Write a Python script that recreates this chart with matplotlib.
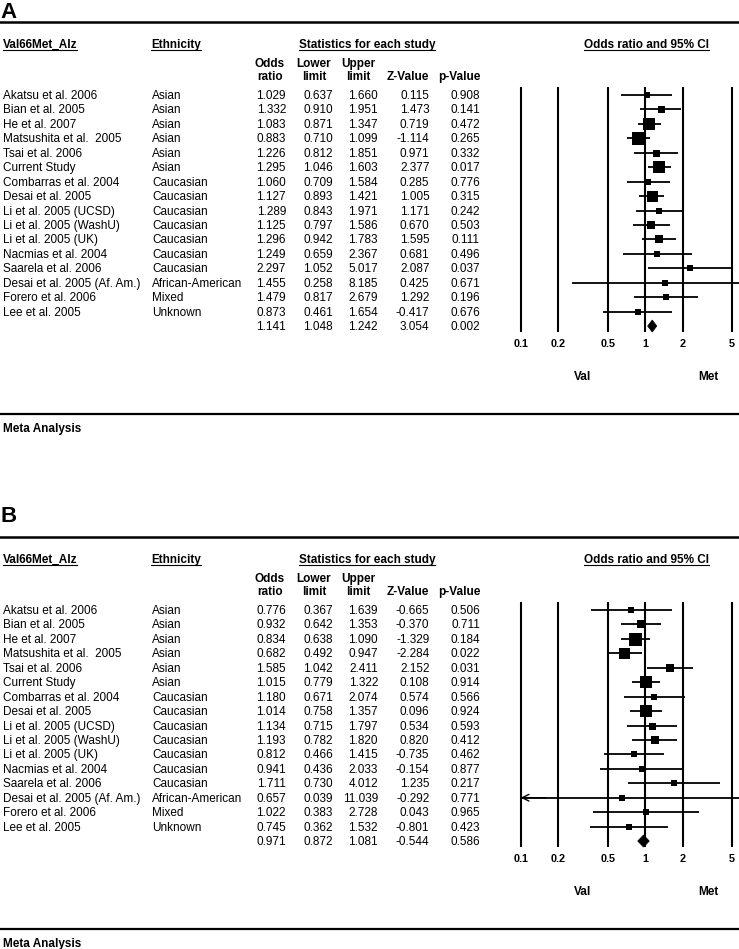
import matplotlib
matplotlib.use("Agg")
import matplotlib.pyplot as plt
from matplotlib.lines import Line2D
from matplotlib.patches import Polygon

plt.rcParams['font.family'] = ['Liberation Sans', 'DejaVu Sans']

# ---------------- data ----------------
studies = ["Akatsu et al. 2006", "Bian et al. 2005", "He et al. 2007",
           "Matsushita et al.  2005", "Tsai et al. 2006", "Current Study",
           "Combarras et al. 2004", "Desai et al. 2005", "Li et al. 2005 (UCSD)",
           "Li et al. 2005 (WashU)", "Li et al. 2005 (UK)", "Nacmias et al. 2004",
           "Saarela et al. 2006", "Desai et al. 2005 (Af. Am.)", "Forero et al. 2006",
           "Lee et al. 2005"]
ethnicity = ["Asian", "Asian", "Asian", "Asian", "Asian", "Asian",
             "Caucasian", "Caucasian", "Caucasian", "Caucasian", "Caucasian",
             "Caucasian", "Caucasian", "African-American", "Mixed", "Unknown"]

or_a = [1.029, 1.332, 1.083, 0.883, 1.226, 1.295, 1.060, 1.127, 1.289, 1.125, 1.296, 1.249, 2.297, 1.455, 1.479, 0.873]
lo_a = [0.637, 0.910, 0.871, 0.710, 0.812, 1.046, 0.709, 0.893, 0.843, 0.797, 0.942, 0.659, 1.052, 0.258, 0.817, 0.461]
hi_a = [1.660, 1.951, 1.347, 1.099, 1.851, 1.603, 1.584, 1.421, 1.971, 1.586, 1.783, 2.367, 5.017, 8.185, 2.679, 1.654]
z_a = [0.115, 1.473, 0.719, -1.114, 0.971, 2.377, 0.285, 1.005, 1.171, 0.670, 1.595, 0.681, 2.087, 0.425, 1.292, -0.417]
p_a = [0.908, 0.141, 0.472, 0.265, 0.332, 0.017, 0.776, 0.315, 0.242, 0.503, 0.111, 0.496, 0.037, 0.671, 0.196, 0.676]
box_a = [6, 7, 12, 13, 7, 12, 6, 11, 6, 7.5, 8.5, 6.5, 6, 6, 6, 6]
sum_a = [1.141, 1.048, 1.242, 3.054, 0.002]

or_b = [0.776, 0.932, 0.834, 0.682, 1.585, 1.015, 1.180, 1.014, 1.134, 1.193, 0.812, 0.941, 1.711, 0.657, 1.022, 0.745]
lo_b = [0.367, 0.642, 0.638, 0.492, 1.042, 0.779, 0.671, 0.758, 0.715, 0.782, 0.466, 0.436, 0.730, 0.039, 0.383, 0.362]
hi_b = [1.639, 1.353, 1.090, 0.947, 2.411, 1.322, 2.074, 1.357, 1.797, 1.820, 1.415, 2.033, 4.012, 11.039, 2.728, 1.532]
z_b = [-0.665, -0.370, -1.329, -2.284, 2.152, 0.108, 0.574, 0.096, 0.534, 0.820, -0.735, -0.154, 1.235, -0.292, 0.043, -0.801]
p_b = [0.506, 0.711, 0.184, 0.022, 0.031, 0.914, 0.566, 0.924, 0.593, 0.412, 0.462, 0.877, 0.217, 0.771, 0.965, 0.423]
box_b = [6, 8.5, 13, 11, 8, 12.5, 6.5, 12, 7, 7.5, 6.5, 6, 6, 6, 6.5, 6]
sum_b = [0.971, 0.872, 1.081, -0.544, 0.586]

ticks = [0.1, 0.2, 0.5, 1, 2, 5]
tick_labels = ["0.1", "0.2", "0.5", "1", "2", "5"]

# ---------------- layout ----------------
W, H = 739, 949
fig = plt.figure(figsize=(W / 100, H / 100), dpi=100)
FS = 8.5


def fx(x):
    return x / W


def fy(y):
    return 1 - y / H


def ptext(x, y, s, **kw):
    return fig.text(fx(x), fy(y), s, va='baseline', fontsize=kw.pop('fontsize', FS), **kw)


def hrule(y, lw=1.6):
    fig.add_artist(Line2D([0, 1], [fy(y), fy(y)], transform=fig.transFigure, color='black', lw=lw))


underlines = []

ROW0 = 95.0
STEP = 14.44
X1PX = 645.1
DEC = 124.4


def panel(off, label, label_base, ors, los, his, zs, ps, boxes, summ):
    ptext(0.5, label_base, label, fontsize=16, fontweight='bold')
    hrule(21.7 + off, lw=1.8)
    hb = 47.7 + off
    t1 = ptext(2.7, hb, "Val66Met_Alz", fontweight='bold')
    t2 = ptext(151, hb, "Ethnicity", fontweight='bold')
    t3 = ptext(367, hb, "Statistics for each study", fontweight='bold', ha='center')
    t4 = ptext(646, hb, "Odds ratio and 95% CI", fontweight='bold', ha='center')
    for t in (t1, t2, t3, t4):
        underlines.append((t, hb + 1.8))
    s1, s2 = 67 + off, 80 + off
    ptext(270, s1, "Odds", fontweight='bold', ha='center')
    ptext(270, s2, "ratio", fontweight='bold', ha='center')
    ptext(314, s1, "Lower", fontweight='bold', ha='center')
    ptext(314, s2, "limit", fontweight='bold', ha='center')
    ptext(358.5, s1, "Upper", fontweight='bold', ha='center')
    ptext(358.5, s2, "limit", fontweight='bold', ha='center')
    ptext(408, s2, "Z-Value", fontweight='bold', ha='center')
    ptext(459, s2, "p-Value", fontweight='bold', ha='center')

    colx = [286, 333, 378, 429.5, 480]
    n = len(studies)
    for i in range(n):
        b = ROW0 + 4 + STEP * i + off
        ptext(2.7, b, studies[i])
        ptext(152, b, ethnicity[i])
        for x, v in zip(colx, [ors[i], los[i], his[i], zs[i], ps[i]]):
            ptext(x, b, "%.3f" % v, ha='right')
    b = ROW0 + 4 + STEP * n + off
    for x, v in zip(colx, summ):
        ptext(x, b, "%.3f" % v, ha='right')

    # forest plot axes
    x0, x1 = 508, 739
    y0, y1 = 80 + off, 352 + off
    ax = fig.add_axes([fx(x0), fy(y1), (x1 - x0) / W, (y1 - y0) / H])
    ax.set_xscale('log')
    ax.set_xlim(10 ** ((x0 - X1PX) / DEC), 10 ** ((x1 - X1PX) / DEC))

    def rv(py):
        return (py - off - ROW0) / STEP

    ax.set_ylim(rv(y1), rv(y0))
    ax.axis('off')
    ax.vlines(ticks, rv(86.7 + off), rv(331.7 + off), color='black', lw=1.5, zorder=1)
    for t, lab in zip(ticks, tick_labels):
        ax.text(t, rv(346.7 + off), lab, ha='center', va='baseline', fontsize=7.8,
                fontweight='bold', clip_on=False)
    left = ticks[0]
    for i in range(n):
        lo = los[i]
        if lo < left:
            ax.hlines(i, left, his[i], color='black', lw=1.3, zorder=2)
            ax.annotate('', xy=(left, i), xytext=(left * 1.6, i),
                        arrowprops=dict(arrowstyle='->', lw=1.0, color='black',
                                        shrinkA=0, shrinkB=0, mutation_scale=12))
        else:
            ax.hlines(i, lo, his[i], color='black', lw=1.3, zorder=2)
        ax.plot([ors[i]], [i], marker='s', ms=boxes[i] * 0.72, color='black',
                mec='black', mew=0, zorder=3)
    h = 6.0 / STEP
    dia = Polygon([(summ[1], n), (summ[0], n - h), (summ[2], n), (summ[0], n + h)],
                  closed=True, facecolor='black', edgecolor='black', lw=0.5, zorder=3)
    ax.add_patch(dia)

    ptext(582.5, 380 + off, "Val", fontweight='bold', ha='center')
    ptext(708, 380 + off, "Met", fontweight='bold', ha='center')
    hrule(414 + off, lw=1.6)
    ptext(2.7, 432 + off, "Meta Analysis", fontweight='bold')


panel(0, "A", 18.3, or_a, lo_a, hi_a, z_a, p_a, box_a, sum_a)
panel(515, "B", 522.3, or_b, lo_b, hi_b, z_b, p_b, box_b, sum_b)

fig.canvas.draw()
r = fig.canvas.get_renderer()
for t, yb in underlines:
    bb = t.get_window_extent(r)
    fig.add_artist(Line2D([bb.x0 / W, bb.x1 / W], [fy(yb), fy(yb)],
                          transform=fig.transFigure, color='black', lw=0.8))

fig.savefig('out.png', dpi=100)
